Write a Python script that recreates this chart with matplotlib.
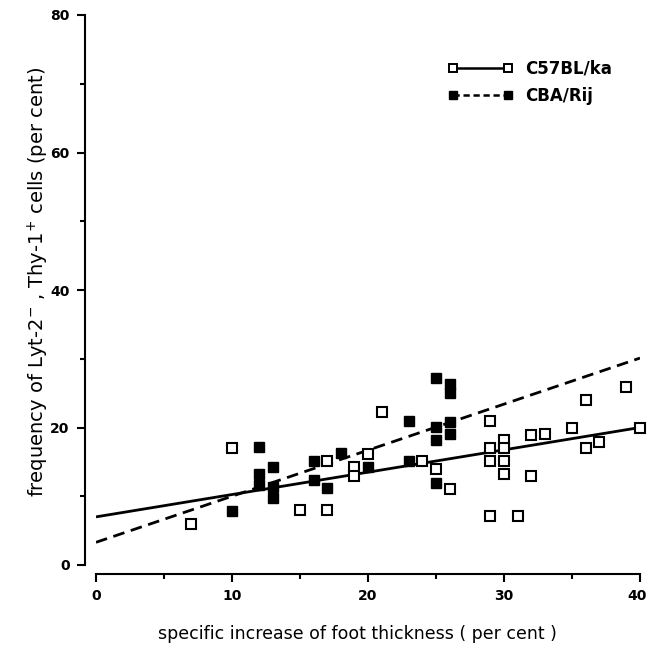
import matplotlib
matplotlib.use("Agg")
import matplotlib.pyplot as plt
import matplotlib.transforms as mtransforms
import numpy as np

plt.rcParams['font.family'] = ['DejaVu Sans']
plt.rcParams['mathtext.fontset'] = 'dejavusans'

# C57BL/ka (open squares)
c57_x = [7, 10, 15, 17, 17, 19, 19, 20, 21, 24, 25, 26, 29, 29, 29, 29,
         30, 30, 30, 30, 31, 32, 33, 32, 35, 36, 36, 37, 39, 40]
c57_y = [6, 17, 8, 8, 15.2, 14.2, 12.9, 16.1, 22.2, 15.2, 14.0, 11.1, 20.9, 17.0, 15.2, 7.1,
         18.2, 17.0, 15.1, 13.2, 7.1, 18.9, 19.1, 13.0, 19.9, 24.0, 17.0, 17.9, 25.9, 19.9]

# CBA/Rij (filled squares)
cba_x = [10, 12, 12, 12, 13, 13, 13, 16, 16, 17, 18, 20, 23, 23,
         25, 25, 25, 25, 26, 26, 26, 26]
cba_y = [7.9, 17.2, 13.2, 11.7, 14.2, 11.4, 9.8, 15.2, 12.4, 11.2, 16.3, 14.3, 21.0, 15.2,
         27.2, 20.1, 18.2, 12.0, 26.4, 25.0, 20.8, 19.1]

# regression lines: (intercept, slope)
c57_fit = (7.0, 0.325)
cba_fit = (3.3, 0.67)

fig = plt.figure(figsize=(6.48, 6.51), dpi=100)
ax = fig.add_axes([96 / 648, 1 - 565 / 651, 544 / 648, 550 / 651])

xs = np.array([0, 40])
ax.plot(xs, c57_fit[0] + c57_fit[1] * xs, color='black', lw=2.0, solid_capstyle='butt')
ax.plot(xs, cba_fit[0] + cba_fit[1] * xs, color='black', lw=2.0, dashes=(4.2, 2.4))

ax.plot(c57_x, c57_y, ls='none', marker='s', ms=6.5, mfc='white', mec='black',
        mew=1.5, clip_on=False, zorder=3)
ax.plot(cba_x, cba_y, ls='none', marker='s', ms=6.5, mfc='black', mec='black',
        clip_on=False, zorder=3)

ax.set_xlim(0, 40)
ax.set_ylim(0, 80)

for side in ('top', 'right'):
    ax.spines[side].set_visible(False)
ax.spines['left'].set_position(('outward', 8))
ax.spines['bottom'].set_position(('outward', 6.5))
ax.spines['left'].set_linewidth(1.5)
ax.spines['bottom'].set_linewidth(1.5)

ax.set_xticks([0, 10, 20, 30, 40])
ax.set_xticks([5, 15, 25, 35], minor=True)
ax.set_yticks([0, 20, 40, 60, 80])
ax.set_yticks([10, 30, 50, 70], minor=True)
ax.tick_params(which='major', direction='out', length=6, width=1.5, pad=5,
               labelsize=10)
ax.tick_params(which='minor', direction='out', length=3.5, width=1.5)
for lab in ax.get_xticklabels() + ax.get_yticklabels():
    lab.set_fontweight('bold')

# nudge the last x tick label so it stays inside the figure
last = ax.xaxis.get_major_ticks()[-1].label1
last.set_transform(last.get_transform() +
                   mtransforms.ScaledTranslation(-3 / 100, 0, fig.dpi_scale_trans))

fig.text(357 / 648, 1 - 634 / 651,
         "specific increase of foot thickness ( per cent )",
         ha='center', va='center', fontsize=12.5)
fig.text(38 / 648, 1 - 282 / 651,
         "frequency of Lyt-2$^{-}$ , Thy-1$^{+}$ cells (per cent)",
         ha='center', va='center', rotation=90, fontsize=14)

# legend: marker - line - marker, then strain name
h1, = ax.plot([], [], color='black', lw=1.8, marker='s', ms=6, mfc='white',
              mec='black', mew=1.4)
h2, = ax.plot([], [], color='black', lw=1.8, dashes=(2.5, 1.5), marker='s', ms=6,
              mfc='black', mec='black')
leg = ax.legend([h1, h2], ['C57BL/ka', 'CBA/Rij'], loc='upper left',
                bbox_to_anchor=(0.62, 0.946), frameon=False, numpoints=2,
                handlelength=3.9, handletextpad=0.7, labelspacing=0.57,
                prop={'size': 12, 'weight': 'bold'})

fig.savefig("out.png", dpi=100)
